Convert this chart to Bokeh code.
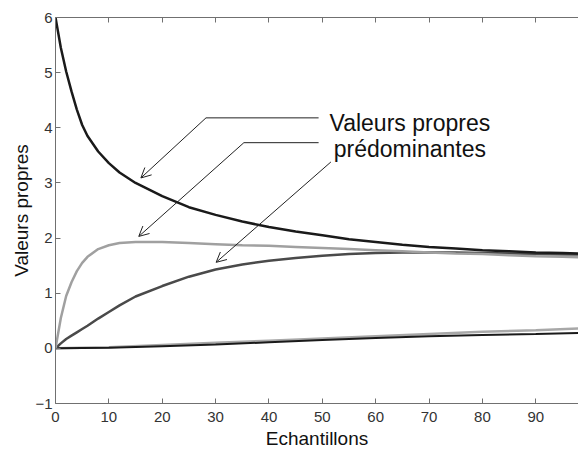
from bokeh.plotting import figure
from bokeh.models import Range1d, LinearAxis, FixedTicker, Arrow, OpenHead, Label, CustomJSTickFormatter
from bokeh.embed import file_html
from bokeh.resources import INLINE

# --- data ---
x_main = [0, 1, 2, 3, 4, 5, 6, 8, 10, 12, 15, 20, 25, 30, 35, 40, 45, 50, 55, 60, 65, 70, 75, 80, 85, 90, 95, 98]
ev1 = [6.0, 5.45, 5.02, 4.66, 4.33, 4.05, 3.85, 3.57, 3.36, 3.19, 3.0, 2.76, 2.56, 2.42, 2.3, 2.2, 2.12, 2.05, 1.98, 1.93, 1.88, 1.84, 1.81, 1.78, 1.76, 1.74, 1.73, 1.72]
ev2 = [0.0, 0.55, 0.95, 1.2, 1.4, 1.55, 1.66, 1.8, 1.87, 1.91, 1.93, 1.93, 1.91, 1.89, 1.87, 1.86, 1.84, 1.82, 1.8, 1.78, 1.76, 1.74, 1.72, 1.71, 1.69, 1.67, 1.66, 1.65]
ev3 = [0.0, 0.09, 0.17, 0.23, 0.29, 0.35, 0.41, 0.54, 0.66, 0.78, 0.94, 1.13, 1.3, 1.43, 1.52, 1.59, 1.64, 1.68, 1.71, 1.73, 1.74, 1.74, 1.74, 1.73, 1.72, 1.71, 1.70, 1.70]
x_low = [0, 10, 20, 30, 40, 50, 60, 70, 80, 90, 98]
ev4 = [0.0, 0.02, 0.06, 0.10, 0.14, 0.18, 0.22, 0.26, 0.30, 0.33, 0.36]
ev5 = [0.0, 0.01, 0.04, 0.07, 0.11, 0.15, 0.19, 0.22, 0.24, 0.26, 0.28]
x_ticks = [0, 10, 20, 30, 40, 50, 60, 70, 80, 90]
y_ticks = [-1, 0, 1, 2, 3, 4, 5, 6]

# annotation leader lines and arrows
leader_elbow_x = [28.2, 35.3]
leader_y = [4.18, 3.73]
leader_end_x = [49.3, 49.3]
arrow_start = [(28.2, 4.18), (35.3, 3.73), (51.6, 3.38)]
arrow_tip = [(16.0, 3.09), (15.6, 2.03), (30.1, 1.56)]
note_lines = ["Valeurs propres", "prédominantes"]
note_x = 66.4
note_y = [4.09, 3.61]

FONT = "Liberation Sans"

p = figure(width=578, height=451, output_backend="svg", toolbar_location=None,
           x_range=Range1d(0, 98), y_range=Range1d(-1, 6),
           min_border_left=55, min_border_right=0, min_border_top=17, min_border_bottom=47)
p.outline_line_color = None
p.xgrid.visible = False
p.ygrid.visible = False
p.background_fill_color = "white"
p.border_fill_color = "white"

for ax, ticks in ((p.xaxis[0], x_ticks), (p.yaxis[0], y_ticks)):
    ax.ticker = FixedTicker(ticks=ticks)
    ax.minor_tick_line_color = None
    ax.major_tick_in = 5
    ax.major_tick_out = 0
    ax.axis_line_color = "#707070"
    ax.major_tick_line_color = "#707070"
    ax.major_label_text_font = FONT
    ax.major_label_text_font_size = "15px"
    ax.major_label_text_color = "#333333"
    ax.axis_label_text_font = FONT
    ax.axis_label_text_font_size = "19px"
    ax.axis_label_text_font_style = "normal"
    ax.axis_label_text_color = "#111111"

p.xaxis.axis_label = "Echantillons"
p.yaxis.axis_label = "Valeurs propres"
p.xaxis.major_label_standoff = 8
p.yaxis.major_label_standoff = 3
p.xaxis.axis_label_standoff = 3
p.yaxis.axis_label_standoff = 0

top = LinearAxis(ticker=FixedTicker(ticks=x_ticks), formatter=CustomJSTickFormatter(code="return ''"),
                 major_label_text_font_size="1px",
                 major_tick_in=5, major_tick_out=0, minor_tick_line_color=None,
                 axis_line_color="#707070", major_tick_line_color="#707070",
                 major_label_standoff=0)
p.add_layout(top, "above")

p.line(x_low, ev4, line_color="#a8a8a8", line_width=2.5)
p.line(x_low, ev5, line_color="#1a1a1a", line_width=2)
p.line(x_main, ev3, line_color="#4a4a4a", line_width=2.5)
p.line(x_main, ev2, line_color="#a0a0a0", line_width=2.5)
p.line(x_main, ev1, line_color="#1a1a1a", line_width=2.5)

for ex, ly, lx in zip(leader_elbow_x, leader_y, leader_end_x):
    p.line([ex, lx], [ly, ly], line_color="#222222", line_width=1)

for (sx, sy), (tx, ty) in zip(arrow_start, arrow_tip):
    p.add_layout(Arrow(x_start=sx, y_start=sy, x_end=tx, y_end=ty, line_width=1, line_color="#222222",
                       end=OpenHead(size=10, line_width=1, line_color="#222222")))

for txt, ty in zip(note_lines, note_y):
    p.add_layout(Label(x=note_x, y=ty, text=txt, text_align="center", text_baseline="middle",
                       text_font=FONT, text_font_size="23px", text_color="#111111"))

open("out.html", "w").write(file_html(p, INLINE))
